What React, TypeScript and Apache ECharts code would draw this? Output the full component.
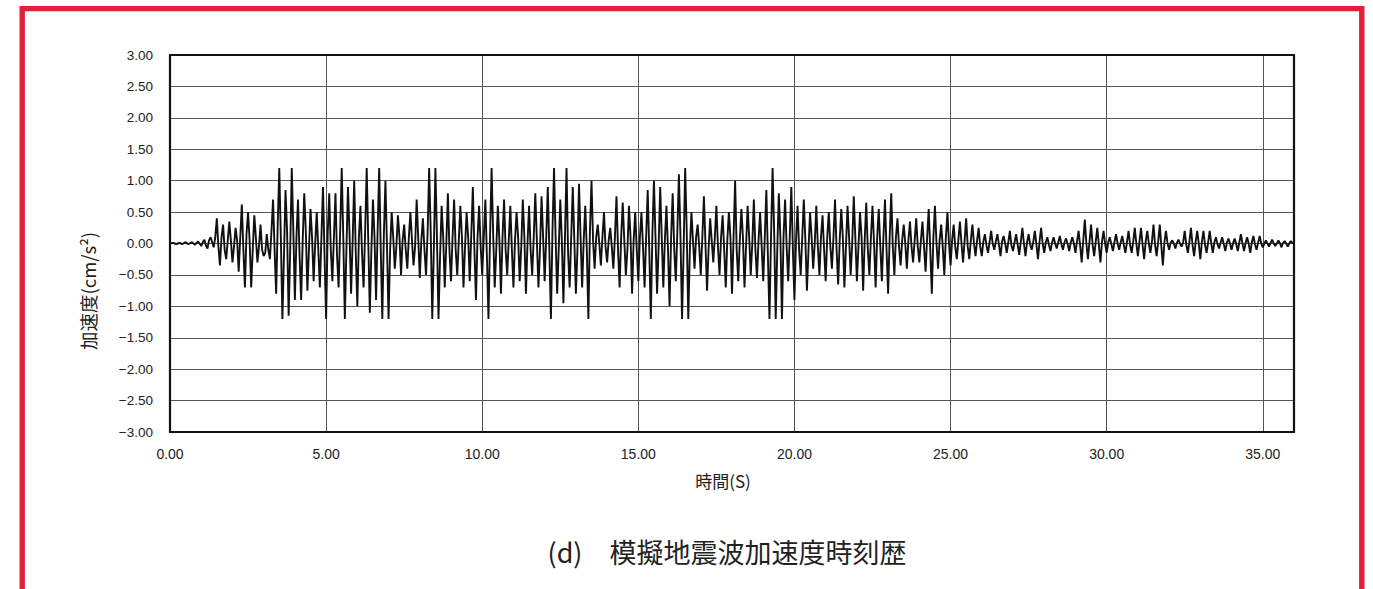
import React, { useEffect, useRef } from "react";
import * as echarts from "echarts";

// sampling step (s)
const DT = 0.05;

// acceleration values, 0.05 s apart (one row = 1 s)
const acc00_06 = [
  0, 0.005, 0.01, 0, -0.01, 0, 0.01, 0, -0.01, 0.01, 0.02, 0, -0.01, 0.01, 0.02, 0, -0.02, 0.01, 0.03, 0,
  -0.04, 0.02, 0.06, -0.03, -0.08, 0.05, 0.1, 0.02, -0.06, 0.1, 0.4, -0.05, -0.35, 0.1, 0.3, -0.1, -0.25, 0.05, 0.35, 0.05,
  -0.3, -0.05, 0.25, 0.05, -0.45, 0.1, 0.62, -0.1, -0.7, 0.15, 0.5, 0.05, -0.7, -0.1, 0.45, 0.1, -0.3, -0.05, 0.3, -0.1,
  -0.2, -0.15, 0.15, -0.1, -0.25, 0.2, 0.7, -0.1, -0.8, 0.3, 1.2, 0.1, -1.2, -0.2, 0.85, 0.2, -1.15, -0.1, 1.2, 0.2,
  -0.9, 0.1, 0.7, -0.2, -0.9, 0.05, 0.8, 0.2, -0.75, -0.1, 0.55, 0.1, -0.6, 0.0, 0.5, -0.1, -0.7, 0.1, 0.9, -0.2,
  -1.2, 0.15, 0.8, -0.1, -0.6, 0.1, 0.8, -0.2, -0.7, 0.2, 1.2, 0.1, -1.2, -0.1, 0.9, 0.15, -0.8, 0.05, 1.0, -0.15,
];
const acc06_12 = [
  -1.0, 0.1, 0.6, -0.15, -0.7, 0.2, 1.2, 0.05, -1.1, -0.1, 0.7, 0.1, -0.9, 0.2, 1.2, -0.1, -1.2, 0.15, 1.0, -0.05,
  -1.2, -0.1, 0.5, 0.1, -0.4, -0.05, 0.45, 0.1, -0.5, 0.05, 0.3, -0.1, -0.4, 0.1, 0.5, 0.05, -0.35, -0.05, 0.7, 0.1,
  -0.55, 0.05, 0.4, -0.1, -0.5, 0.15, 1.2, 0.2, -1.2, -0.1, 1.2, 0.1, -1.2, -0.2, 0.6, 0.1, -0.7, 0.0, 0.8, -0.1,
  -0.6, 0.1, 0.7, -0.1, -0.5, 0.05, 0.6, 0.1, -0.7, -0.05, 0.5, 0.1, -0.6, 0.15, 0.9, -0.1, -0.9, 0.1, 0.6, -0.05,
  -0.5, 0.1, 0.7, -0.2, -1.2, 0.1, 1.2, 0.15, -0.7, -0.1, 0.6, 0.05, -0.8, 0.1, 0.7, -0.1, -0.5, 0.05, 0.6, -0.1,
  -0.7, 0.05, 0.5, 0.1, -0.6, -0.05, 0.7, 0.1, -0.8, 0.0, 0.6, -0.1, -0.5, 0.1, 0.8, 0.05, -0.7, -0.1, 0.75, 0.1,
];
const acc12_18 = [
  -0.6, 0.1, 0.9, -0.1, -1.2, 0.2, 1.2, 0.1, -0.8, -0.1, 0.7, 0.05, -0.95, 0.1, 1.2, -0.15, -0.7, 0.1, 0.9, 0.05,
  -0.8, -0.1, 0.95, 0.1, -0.7, 0.05, 0.6, -0.1, -1.2, 0.2, 1.0, 0.05, -0.4, 0.1, 0.3, 0.0, -0.35, 0.1, 0.5, -0.05,
  -0.3, 0.05, 0.25, -0.05, -0.4, 0.1, 0.75, -0.1, -0.7, 0.1, 0.65, 0.05, -0.5, -0.1, 0.6, 0.1, -0.8, 0.05, 0.5, -0.1,
  -0.6, 0.1, 0.5, -0.05, -0.7, 0.1, 0.85, -0.1, -1.2, 0.15, 1.0, 0.1, -0.8, -0.05, 0.9, 0.1, -0.7, 0.05, 0.6, -0.1,
  -1.0, 0.1, 0.8, -0.1, -0.6, 0.2, 1.1, 0.1, -1.2, -0.1, 1.2, 0.2, -1.2, -0.1, 0.5, 0.05, -0.4, 0.1, 0.3, -0.05,
  -0.5, 0.1, 0.75, 0.0, -0.75, -0.1, 0.4, 0.05, -0.3, 0.1, 0.6, -0.05, -0.5, 0.1, 0.45, -0.1, -0.7, 0.05, 0.5, 0.1,
];
const acc18_24 = [
  -0.8, 0.1, 1.0, -0.1, -0.6, 0.05, 0.55, 0.1, -0.7, -0.05, 0.6, 0.1, -0.5, 0.0, 0.7, -0.1, -0.55, 0.05, 0.5, -0.05,
  -0.6, 0.1, 0.85, -0.2, -1.2, 0.1, 1.2, 0.2, -1.2, -0.1, 0.8, 0.1, -1.2, 0.1, 0.7, -0.05, -0.6, 0.1, 0.9, -0.1,
  -0.9, 0.05, 0.6, -0.1, -0.5, 0.1, 0.7, 0.05, -0.75, -0.1, 0.5, 0.1, -0.4, 0.0, 0.6, -0.05, -0.5, 0.1, 0.45, -0.1,
  -0.6, 0.1, 0.5, -0.05, -0.4, 0.1, 0.7, -0.1, -0.65, 0.05, 0.55, 0.1, -0.7, -0.05, 0.6, 0.1, -0.5, 0.0, 0.75, 0.1,
  -0.6, -0.05, 0.5, 0.1, -0.75, 0.05, 0.65, -0.1, -0.5, 0.1, 0.6, 0.0, -0.7, 0.1, 0.55, -0.05, -0.6, 0.1, 0.7, -0.1,
  -0.8, 0.1, 0.8, -0.05, -0.5, 0.1, 0.4, -0.05, -0.35, 0.05, 0.3, 0.0, -0.4, 0.05, 0.35, -0.05, -0.3, 0.05, 0.4, -0.05,
];
const acc24_30 = [
  -0.3, 0.05, 0.35, -0.05, -0.45, 0.1, 0.55, -0.1, -0.8, 0.1, 0.6, 0.0, -0.4, 0.05, 0.3, -0.05, -0.5, 0.1, 0.5, 0.0,
  -0.35, 0.05, 0.3, -0.05, -0.25, 0.05, 0.35, 0.0, -0.3, 0.05, 0.4, -0.05, -0.25, 0.05, 0.3, 0.0, -0.2, 0.05, 0.25, -0.05,
  -0.2, 0.03, 0.15, -0.03, -0.15, 0.02, 0.2, 0.0, -0.1, 0.03, 0.15, -0.02, -0.2, 0.03, 0.12, 0.0, -0.15, 0.02, 0.2, -0.03,
  -0.12, 0.02, 0.15, -0.02, -0.18, 0.03, 0.25, 0.0, -0.2, 0.02, 0.15, -0.02, -0.1, 0.03, 0.2, -0.02, -0.25, 0.03, 0.25, 0.0,
  -0.15, 0.02, 0.1, -0.02, -0.12, 0.01, 0.1, 0.0, -0.08, 0.02, 0.12, -0.01, -0.1, 0.02, 0.08, -0.01, -0.12, 0.02, 0.1, 0.0,
  -0.15, 0.03, 0.2, -0.03, -0.3, 0.05, 0.38, 0.0, -0.25, 0.03, 0.3, -0.02, -0.2, 0.03, 0.25, -0.02, -0.3, 0.03, 0.2, 0.0,
];
const acc30_36 = [
  -0.15, 0.02, 0.1, -0.01, -0.12, 0.02, 0.15, 0.0, -0.1, 0.02, 0.12, -0.02, -0.15, 0.02, 0.2, -0.02, -0.15, 0.03, 0.25, 0.0,
  -0.2, 0.03, 0.25, -0.02, -0.25, 0.03, 0.2, 0.0, -0.15, 0.03, 0.3, -0.02, -0.2, 0.03, 0.3, -0.03, -0.35, 0.02, 0.2, 0.0,
  -0.1, 0.01, 0.05, 0.0, -0.08, 0.01, 0.06, 0.0, -0.05, 0.02, 0.2, -0.02, -0.15, 0.03, 0.25, -0.02, -0.2, 0.02, 0.2, 0.0,
  -0.25, 0.03, 0.2, -0.02, -0.15, 0.02, 0.2, 0.0, -0.15, 0.02, 0.1, -0.01, -0.08, 0.01, 0.1, -0.01, -0.12, 0.01, 0.08, 0.0,
  -0.1, 0.01, 0.08, -0.01, -0.12, 0.02, 0.15, 0.0, -0.12, 0.01, 0.1, -0.01, -0.15, 0.02, 0.12, -0.01, -0.1, 0.01, 0.12, 0.0,
  -0.06, 0.0, 0.05, 0.0, -0.05, 0.01, 0.06, 0.0, -0.04, 0.0, 0.05, 0.0, -0.06, 0.01, 0.04, 0.0, -0.05, 0.0, 0.04, 0.0, 0.02,
];

const accValues = [...acc00_06, ...acc06_12, ...acc12_18, ...acc18_24, ...acc24_30, ...acc30_36];

const TITLE = "(d)\u3000模擬地震波加速度時刻歴";
const X_NAME = "時間(S)";
const Y_NAME = "加速度(cm/s²)";

const FONT = "'Liberation Sans', Arial, sans-serif";
const CJK = "'Noto Sans CJK JP', sans-serif";

export default function App() {
  const ref = useRef<HTMLDivElement>(null);

  useEffect(() => {
    document.body.style.margin = "0";
    if (!ref.current) return;
    const chart = echarts.init(ref.current, null, { renderer: "svg" });
    const data = accValues.map((v, i) => [+(i * DT).toFixed(2), v]);
    chart.setOption({
      animation: false,
      backgroundColor: "#ffffff",
      grid: {
        left: 170,
        top: 55,
        width: 1124,
        height: 377,
        show: false,
      },
      xAxis: {
        type: "value",
        min: 0,
        max: 36,
        interval: 5,
        axisLine: { show: false },
        axisTick: { show: false },
        axisLabel: {
          showMaxLabel: false,
          margin: 15,
          color: "#222",
          fontSize: 14,
          fontFamily: FONT,
          formatter: (v: number) => v.toFixed(2),
        },
        splitLine: { show: true, lineStyle: { color: "#555", width: 1 } },
      },
      yAxis: {
        type: "value",
        min: -3,
        max: 3,
        interval: 0.5,
        axisLine: { show: false },
        axisTick: { show: false },
        axisLabel: {
          margin: 17,
          color: "#222",
          fontSize: 13.5,
          fontFamily: FONT,
          formatter: (v: number) => (v < 0 ? "\u2212" : "") + Math.abs(v).toFixed(2),
        },
        splitLine: { show: true, lineStyle: { color: "#555", width: 1 } },
      },
      series: [
        {
          type: "line",
          data,
          showSymbol: false,
          symbol: "none",
          lineStyle: { color: "#111", width: 1.9 },
          z: 3,
        },
      ],
      graphic: [
        {
          type: "rect",
          z: 100,
          silent: true,
          shape: { x: 170, y: 55, width: 1124, height: 377 },
          style: { fill: "none", stroke: "#111", lineWidth: 2.2 },
        },
        {
          type: "rect",
          z: 100,
          silent: true,
          shape: { x: 22.2, y: 8.6, width: 1339.6, height: 700 },
          style: { fill: "none", stroke: "#E41F3C", lineWidth: 5.4 },
        },
        {
          type: "text",
          x: 88,
          y: 291,
          rotation: Math.PI / 2,
          style: {
            text: Y_NAME,
            fill: "#222",
            font: `18.5px ${CJK}`,
            align: "center",
            verticalAlign: "middle",
          },
        },
        {
          type: "text",
          x: 723,
          y: 480,
          style: {
            text: X_NAME,
            fill: "#222",
            font: `17px ${CJK}`,
            align: "center",
            verticalAlign: "middle",
          },
        },
        {
          type: "text",
          x: 727,
          y: 551,
          style: {
            text: TITLE,
            fill: "#222",
            font: `27px ${CJK}`,
            align: "center",
            verticalAlign: "middle",
          },
        },
      ],
    });
    return () => chart.dispose();
  }, []);

  return <div ref={ref} style={{ width: 1373, height: 589 }} />;
}
